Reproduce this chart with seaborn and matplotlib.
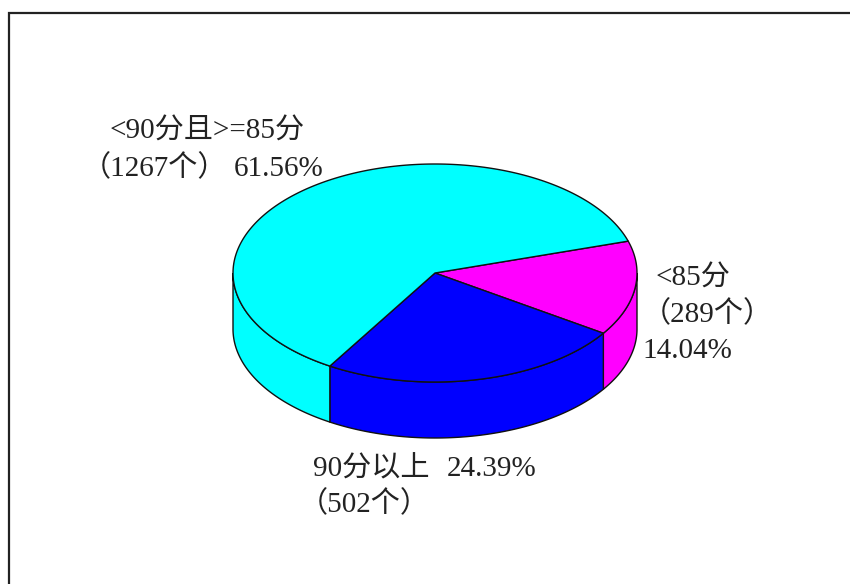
import numpy as np
import pandas as pd
import matplotlib
matplotlib.use("Agg")
import matplotlib.pyplot as plt
from matplotlib.patches import Polygon
import seaborn as sns

# ── Data ───────────────────────────────────────────────
categories = ["<85分", "90分以上", "<90分且>=85分"]
counts = [289, 502, 1267]
percents = [14.04, 24.39, 61.56]
colors = ["#ff00ff", "#0000ff", "#00ffff"]

# ── Style ──────────────────────────────────────────────
sns.set_theme(style="white")
plt.rcParams["font.family"] = ["Liberation Serif", "Noto Sans CJK SC"]
palette = sns.color_palette(colors)
TXT = "#222222"
FS = 21

# pie geometry, in image pixels
CX, CY = 435, 273
RX, RY = 202, 109
DEPTH = 56
START = 17   # slices run clockwise from here

df = pd.DataFrame({"cat": categories, "n": counts, "pct": percents})
df["span"] = df["n"] / df["n"].sum() * 360
df["hi"] = START - df["span"].cumsum().shift(fill_value=0)
df["lo"] = df["hi"] - df["span"]


def rim(t0, t1, dy=0):
    t = np.radians(np.linspace(t0, t1, 200))
    return np.column_stack([CX + RX * np.cos(t), CY - RY * np.sin(t) + dy])


fig = plt.figure(figsize=(8.5, 5.84), dpi=100, facecolor="white")
ax = fig.add_axes([0, 0, 1, 1])
ax.set_xlim(0, 850)
ax.set_ylim(584, 0)
ax.axis("off")

# frame: only left and top show in the picture
ax.plot([9, 9, 850], [584, 13, 13], color="#222222", lw=1.6, solid_joinstyle="miter")

# side wall, front half only
for i, row in df.iterrows():
    a = max(row["lo"], -180)
    b = min(row["hi"], 0)
    if b > a:
        pts = np.vstack([rim(a, b), rim(b, a, DEPTH)])
        ax.add_patch(Polygon(pts, closed=True, fc=palette[i], ec="#111111", lw=1))

# top face
for i, row in df.iterrows():
    pts = np.vstack([[CX, CY], rim(row["hi"], row["lo"])])
    ax.add_patch(Polygon(pts, closed=True, fc=palette[i], ec="#111111", lw=1, joinstyle="round"))


# labels
def lab(x, y, s):
    ax.text(x, y, s, fontsize=FS, color=TXT, ha="left", va="baseline")


lab(110, 139, categories[2])
lab(82, 176, f"（{counts[2]}个）")
lab(234, 176, f"{percents[2]:.2f}%")
lab(656, 286, categories[0])
lab(642, 322, f"（{counts[0]}个）")
lab(642, 358, f"{percents[0]:.2f}%")
lab(313, 476, categories[1])
lab(447, 476, f"{percents[1]:.2f}%")
lab(299, 512, f"（{counts[1]}个）")

fig.savefig("out.png", dpi=100)
